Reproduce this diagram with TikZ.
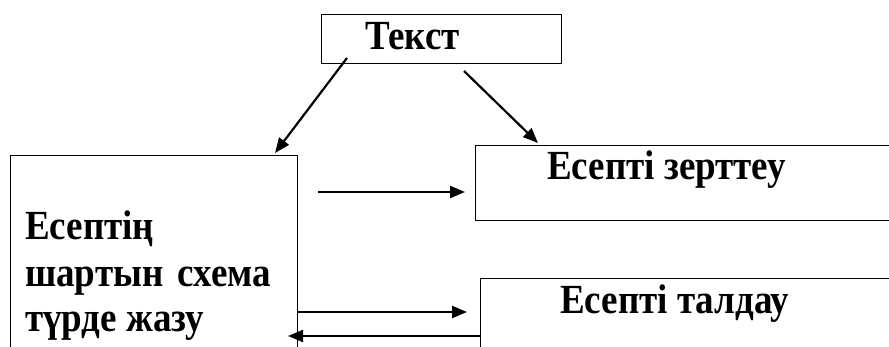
\documentclass[tikz,border=0pt]{standalone}
\usepackage{fontspec}
\setmainfont{Liberation Serif}
\usetikzlibrary{arrows.meta}
% bold label text, slightly stretched vertically
\newcommand{\tallbf}[1]{\scalebox{1}[1.12]{#1}}
\begin{document}
\begin{tikzpicture}[x=1pt,y=-1pt,
  box/.style={draw,line width=1.4pt,rectangle,anchor=north west,inner sep=0pt},
  lbl/.style={anchor=base west,inner sep=0pt,font=\fontsize{37}{45}\selectfont\bfseries},
  conn/.style={line width=2.2pt,-{Triangle[length=15pt,width=12pt]}}]
\useasboundingbox (0,0) rectangle (889,347);
\clip (0,0) rectangle (889,347);
% boxes
\node[box,minimum width=240pt,minimum height=49pt] (top) at (321,14) {};
\node[box,minimum width=287pt,minimum height=220pt] (left) at (10,155) {};
\node[box,minimum width=440pt,minimum height=75pt] (study) at (475,145) {};
\node[box,minimum width=440pt,minimum height=90pt] (anal) at (480,278) {};
% labels
\node[lbl] (ttop) at (365,50) {\tallbf{Текст}};
\node[lbl] (tstudy) at (547,180) {\tallbf{Есепті зерттеу}};
\node[lbl] (tanal) at (560,314) {\tallbf{Есепті талдау}};
\node[lbl] (tl1) at (25,240) {\tallbf{Есептің}};
\node[lbl] (tl2) at (25,287) {\tallbf{шартын\hspace{5pt} схема}};
\node[lbl] (tl3) at (25,331) {\tallbf{түрде жазу}};
% connector ends
\coordinate (a1s) at (347,58);
\coordinate (a1e) at (275,153);
\coordinate (a2s) at (464,71);
\coordinate (a2e) at (538,143);
\coordinate (a3s) at (318,192);
\coordinate (a3e) at (465,192);
\coordinate (a4s) at (297,312);
\coordinate (a4e) at (467,312);
\coordinate (a5s) at (480,336);
\coordinate (a5e) at (288,336);
% connectors
\draw[conn] (a1s) -- (a1e);
\draw[conn] (a2s) -- (a2e);
\draw[conn] (a3s) -- (a3e);
\draw[conn] (a4s) -- (a4e);
\draw[conn] (a5s) -- (a5e);
\end{tikzpicture}
\end{document}
